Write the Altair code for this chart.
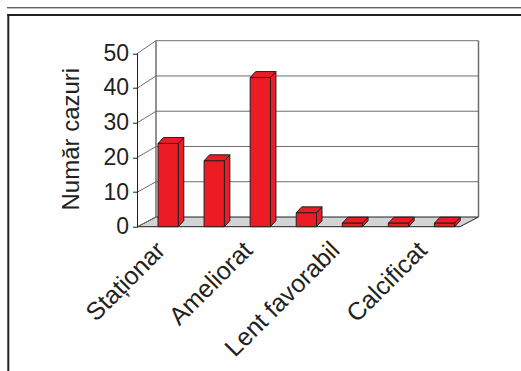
import json

import altair as alt
import pandas as pd

# ---- data -------------------------------------------------------------
categories = ["Staționar", "Agravat", "Ameliorat", "Vindecat",
              "Lent favorabil", "Deces", "Calcificat"]
values = [24, 19, 43, 4, 1, 1, 1]
y_ticks = [0, 10, 20, 30, 40, 50]
labelled = [0, 2, 4, 6]          # categories whose names are printed

# ---- 3-D box geometry (in scale units) --------------------------------
SLOT_PX = 46.07                  # pixels per category slot
UNIT_PX = 3.468                  # pixels per count on the front plane
WALL_DX = 0.4016                 # depth of the box, in slots
BACK0, BACKS = 2.797, 1.0167     # back-wall value = BACK0 + BACKS * v
BAR_OFF, BAR_W = 0.445, 0.44     # bar start inside its slot, bar width
BAR_DX, BAR_DY = 0.12, 1.73      # bar depth (slots, counts)
LABEL_START, LABEL_STEP = 0.5, 0.947

N = len(categories)
X_MAX = N + WALL_DX


def back(v):
    return BACK0 + BACKS * v


Y_MAX = back(y_ticks[-1])
W = SLOT_PX * X_MAX
H = UNIT_PX * Y_MAX
LEFT, BOTTOM_Y = 137.5, 226.7
TOP = BOTTOM_Y - H

FONT = "Liberation Sans"
DARK = "#231f20"
GRID = "#6d6e71"
RED = "#ed1c24"
FLOOR = "#d1d3d4"

xs = alt.Scale(domain=[0, X_MAX], nice=False, zero=False)
ys = alt.Scale(domain=[0, Y_MAX], nice=False, zero=False)

label_pos = [LABEL_START + LABEL_STEP * i for i in labelled]
label_expr = (f"{json.dumps(categories, ensure_ascii=False)}"
              f"[round((datum.value - {LABEL_START}) / {LABEL_STEP})]")

xaxis = alt.Axis(values=label_pos, labelExpr=label_expr, title=None,
                 domain=False, grid=False, ticks=False, tickSize=0,
                 labelAngle=-45, labelAlign="right", labelBaseline="middle",
                 labelPadding=19, labelFont=FONT, labelFontSize=25,
                 labelColor=DARK, labelOverlap=False, labelFlush=False,
                 labelBound=False)
yaxis = alt.Axis(values=y_ticks, title="Număr cazuri", domain=False,
                 grid=False, ticks=True, tickSize=5, tickColor=DARK,
                 tickWidth=1, labelFont=FONT, labelFontSize=23,
                 labelColor=DARK, labelPadding=4, titleFont=FONT,
                 titleFontSize=24, titleFontWeight="normal",
                 titleColor=DARK, titleAngle=270, titleAlign="center",
                 titleBaseline="alphabetic", titleX=78 - LEFT,
                 titleY=138.7 - TOP)


def X(f):
    return alt.X(f, type="quantitative", scale=xs, axis=xaxis)


def Y(f):
    return alt.Y(f, type="quantitative", scale=ys, axis=yaxis)


# ---- box: floor, walls, gridlines -------------------------------------
floor_df = pd.DataFrame({
    "y": [0, back(0)],
    "x": [0, WALL_DX],
    "x2": [N, N + WALL_DX],
})
floor = alt.Chart(floor_df).mark_area(
    orient="horizontal", fill=FLOOR, stroke=DARK, strokeWidth=1
).encode(y=Y("y"), x=X("x"), x2="x2")

grid_df = pd.DataFrame({
    "y": [back(v) for v in y_ticks[1:]],
    "x": WALL_DX, "x2": X_MAX,
})
grid = alt.Chart(grid_df).mark_rule(color=GRID, strokeWidth=1).encode(
    x=X("x"), x2="x2", y=Y("y"))

side_df = pd.DataFrame({
    "x": 0.0, "x2": WALL_DX,
    "y": y_ticks, "y2": [back(v) for v in y_ticks],
})
side = alt.Chart(side_df).mark_rule(color=GRID, strokeWidth=1).encode(
    x=X("x"), x2="x2", y=Y("y"), y2="y2")

edges_df = pd.DataFrame({
    "x": [WALL_DX, X_MAX],
    "y": [back(0)] * 2, "y2": [back(y_ticks[-1])] * 2,
})
edges = alt.Chart(edges_df).mark_rule(color=GRID, strokeWidth=1.5).encode(
    x=X("x"), y=Y("y"), y2="y2")

axis_df = pd.DataFrame({"x": [0.0], "y": [y_ticks[0]], "y2": [y_ticks[-1]]})
front_axis = alt.Chart(axis_df).mark_rule(color=DARK, strokeWidth=1).encode(
    x=X("x"), y=Y("y"), y2="y2")

# ---- bars: front, side and top faces ----------------------------------
front_rows, side_rows, top_rows = [], [], []
for i, v in enumerate(values):
    xl = i + BAR_OFF
    xr = xl + BAR_W
    front_rows.append({"id": i, "x": xl, "x2": xr, "y": 0, "y2": v})
    side_rows += [
        {"id": i, "x": xr, "y": v, "y2": 0},
        {"id": i, "x": xr + BAR_DX, "y": v + BAR_DY, "y2": BAR_DY},
    ]
    top_rows += [
        {"id": i, "y": v, "x": xl, "x2": xr},
        {"id": i, "y": v + BAR_DY, "x": xl + BAR_DX, "x2": xr + BAR_DX},
    ]

bar_side = alt.Chart(pd.DataFrame(side_rows)).mark_area(
    orient="vertical", fill=RED, stroke=DARK, strokeWidth=1
).encode(x=X("x"), y=Y("y"), y2="y2", detail="id:N")

bar_top = alt.Chart(pd.DataFrame(top_rows)).mark_area(
    orient="horizontal", fill=RED, stroke=DARK, strokeWidth=1
).encode(y=Y("y"), x=X("x"), x2="x2", detail="id:N")

bar_front = alt.Chart(pd.DataFrame(front_rows)).mark_rect(
    fill=RED, stroke=DARK, strokeWidth=1
).encode(x=X("x"), x2="x2", y=Y("y"), y2="y2")

# ---- page frame -------------------------------------------------------
one = pd.DataFrame({"k": [0]})
top_line = alt.Chart(one).mark_rule(color=DARK, strokeWidth=1).encode(
    x=alt.value(7 - LEFT), x2=alt.value(521 - LEFT), y=alt.value(7.8 - TOP))
frame_top = alt.Chart(one).mark_rule(color=DARK, strokeWidth=2).encode(
    x=alt.value(7.3 - LEFT), x2=alt.value(521 - LEFT), y=alt.value(15 - TOP))
frame_left = alt.Chart(one).mark_rule(color=DARK, strokeWidth=2).encode(
    x=alt.value(8.3 - LEFT), y=alt.value(14 - TOP), y2=alt.value(371 - TOP))

chart = alt.layer(
    floor, grid, side, edges, front_axis,
    bar_side, bar_top, bar_front,
    top_line, frame_top, frame_left,
).properties(
    width=W, height=H,
    autosize=alt.AutoSizeParams(type="none"),
    padding={"left": LEFT, "top": TOP, "right": 521 - LEFT - W,
             "bottom": 371 - BOTTOM_Y},
    background="white",
).configure_view(strokeWidth=0)

chart.save("out.html", embed_options={"renderer": "svg", "actions": False})
